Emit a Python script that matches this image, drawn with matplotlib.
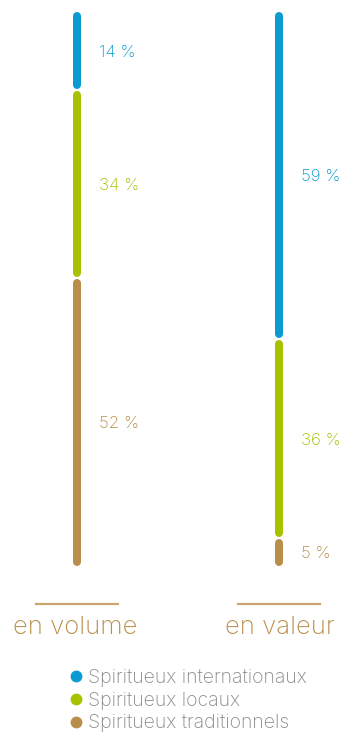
import matplotlib
matplotlib.use("Agg")
import matplotlib.pyplot as plt
from matplotlib.lines import Line2D

# Data
groups = ["en volume", "en valeur"]
series = ["Spiritueux internationaux", "Spiritueux locaux", "Spiritueux traditionnels"]
volume = [14, 34, 52]
valeur = [59, 36, 5]
colors = ["#0b9bd1", "#a7c300", "#b88e4a"]

values = [volume, valeur]
xpos = [77, 279]          # horizontal bar positions (pixel-like units)
label_dx = 22

W, H = 342, 735
fig = plt.figure(figsize=(W / 100, H / 100), dpi=100)
top_px, bot_px = 12, 566
ax = fig.add_axes([0, 1 - bot_px / H, 1, (bot_px - top_px) / H])
ax.set_xlim(0, W)
ax.set_ylim(100, 0)
ax.axis("off")

font = "Inter"
wt = "light"
lw_px = 8
lw = lw_px * 72 / 100
px_per_pct = (bot_px - top_px) / 100
cap = (lw_px / 2) / px_per_pct
gap = 1.0 / px_per_pct

for x, vals in zip(xpos, values):
    start = 0
    for i, (v, c) in enumerate(zip(vals, colors)):
        end = start + v
        s = start + cap + (gap if i > 0 else 0)
        e = end - cap - (gap if i < len(vals) - 1 else 0)
        ax.plot([x, x], [s, e], color=c, lw=lw, solid_capstyle="round")
        ax.text(x + label_dx, (start + end) / 2, f"{v}\u00a0%", color=c,
                fontsize=12.2, family=font, weight=wt,
                ha="left", va="center_baseline")
        start = end

# Group labels with rules above
for x, g, dx in zip(xpos, groups, [-2, 1]):
    fig.add_artist(Line2D([(x - 41) / W, (x + 41) / W], [1 - 604 / H] * 2,
                          color="#c9a76e", lw=1.6))
    fig.text((x + dx) / W, 1 - 628 / H, g, color="#b88e4a", fontsize=18.5,
             family=font, weight=wt, ha="center", va="center")

handles = [Line2D([], [], ls="none", marker="o", markersize=7.5,
                  markerfacecolor=c, markeredgecolor=c) for c in colors]
fig.legend(handles, series, loc="upper left", bbox_to_anchor=(71 / W, 1 - 669 / H),
           frameon=False, handlelength=0.5, handletextpad=0.35,
           labelspacing=0.24, borderpad=0, borderaxespad=0,
           prop={"family": font, "weight": wt, "size": 14},
           labelcolor="#8a8a8a")

fig.savefig("out.png", dpi=100)
